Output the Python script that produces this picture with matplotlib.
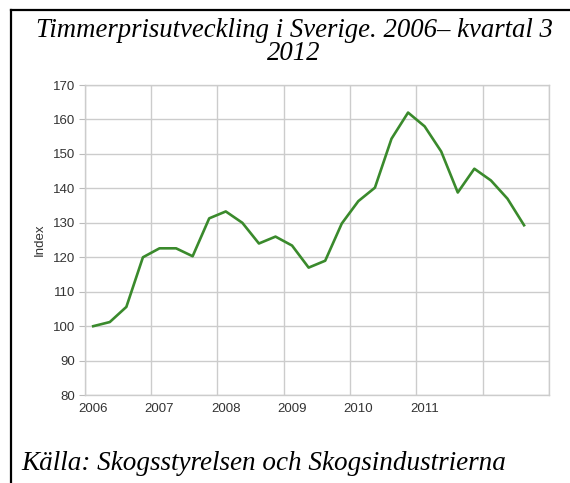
import numpy as np
import matplotlib.pyplot as plt

# quarterly timber price index, 2006 Q1 .. 2012 Q3
index_values = [100, 101.2, 105.6, 120, 122.6, 122.6, 120.3, 131.3, 133.3, 130,
                124, 126, 123.4, 117, 119, 129.8, 136.3, 140.2, 154.4, 162,
                158, 150.7, 138.8, 145.7, 142.3, 137, 129.3]
years = [2006, 2007, 2008, 2009, 2010, 2011]
grid_years = [2006, 2007, 2008, 2009, 2010, 2011, 2012, 2013]
y_ticks = [80, 90, 100, 110, 120, 130, 140, 150, 160, 170]

quarters = 2006 + (np.arange(len(index_values)) + 0.5) / 4

fig = plt.figure(figsize=(5.7, 4.83), dpi=100)
ax = fig.add_axes([0.149, 0.182, 0.814, 0.642])

ax.plot(quarters, index_values, color='#3a8a2c', linewidth=1.9)

ax.set_xlim(2006, 2013)
ax.set_ylim(80, 170)
ax.set_yticks(y_ticks)
ax.set_xticks(grid_years, minor=True)
ax.set_xticks([y + 0.125 for y in years])
ax.set_xticklabels([str(y) for y in years])
ax.grid(True, axis='y', color='#cccccc', linewidth=1)
ax.grid(True, axis='x', which='minor', color='#cccccc', linewidth=1)
ax.tick_params(axis='x', which='both', length=0, labelsize=9.5, labelcolor='#333333', pad=6)
ax.tick_params(axis='y', length=4, color='#bbbbbb', labelsize=9.5, labelcolor='#333333', pad=3)
for lbl in ax.get_xticklabels() + ax.get_yticklabels():
    lbl.set_family('Liberation Sans')
for s in ax.spines.values():
    s.set_color('#cccccc')
    s.set_linewidth(1)
ax.set_ylabel('Index', fontsize=9.5, color='#333333', family='Liberation Sans', labelpad=5)

fig.text(0.516, 0.924, 'Timmerprisutveckling i Sverige. 2006\u2013 kvartal 3',
         ha='center', va='baseline', fontsize=19.3, style='italic', family='Liberation Serif')
fig.text(0.516, 0.875, '2012', ha='center', va='baseline', fontsize=19.3,
         style='italic', family='Liberation Serif')
fig.text(0.038, 0.027, 'K\u00e4lla: Skogsstyrelsen och Skogsindustrierna',
         ha='left', va='baseline', fontsize=19.5, style='italic', family='Liberation Serif')

# border on left and top
fig.add_artist(plt.Line2D([11 / 570, 11 / 570], [0, 1 - 10 / 483], color='black', linewidth=1.6))
fig.add_artist(plt.Line2D([11 / 570, 1], [1 - 10 / 483, 1 - 10 / 483], color='black', linewidth=1.6))

fig.savefig('out.png', dpi=100)
